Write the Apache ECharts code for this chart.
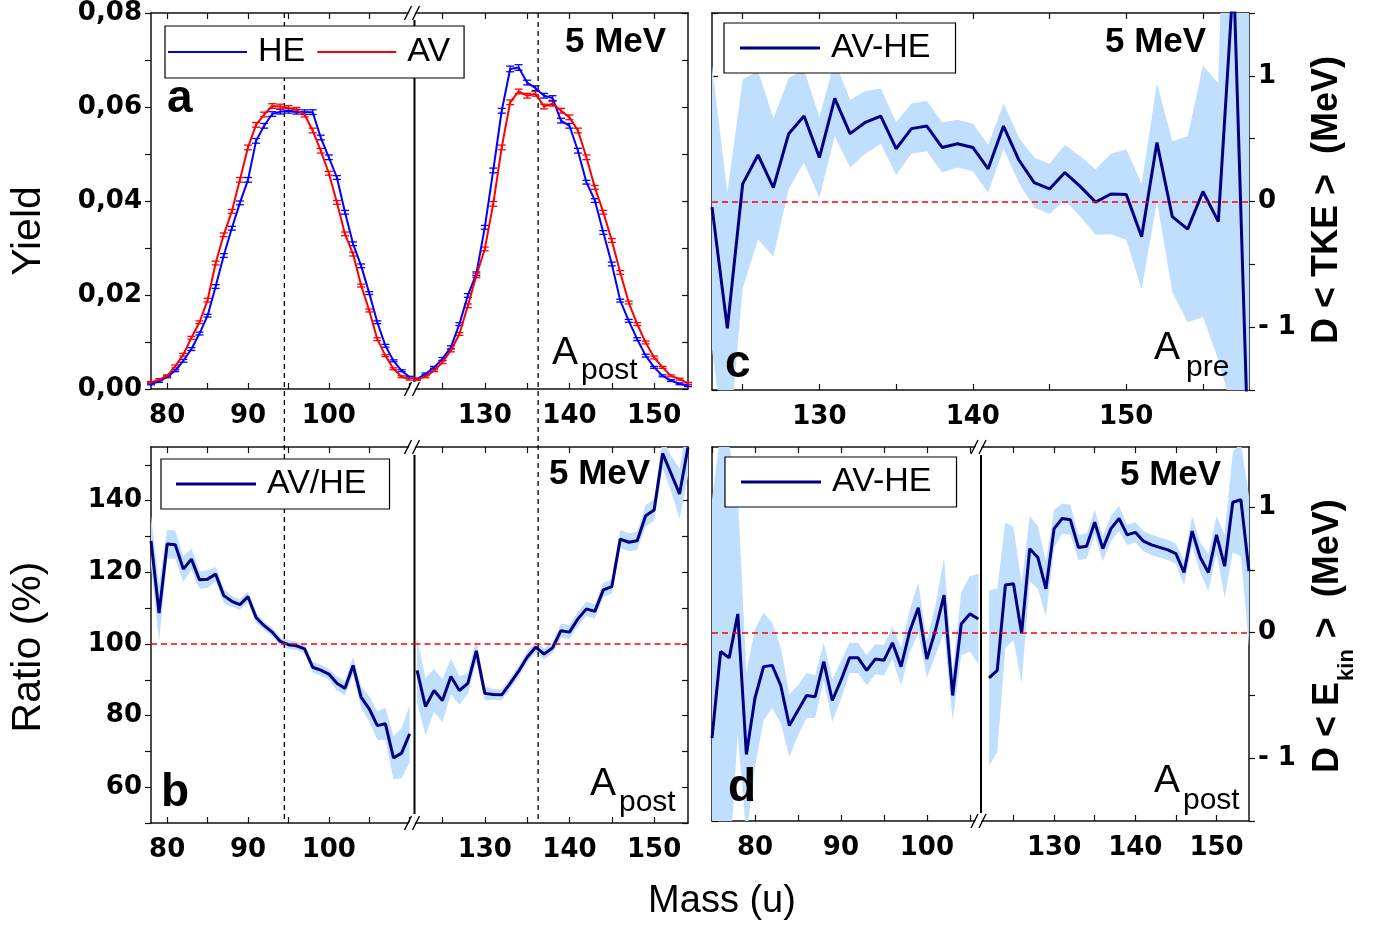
<!DOCTYPE html>
<html><head><meta charset="utf-8">
<script src="https://cdn.jsdelivr.net/npm/echarts@6/dist/echarts.min.js"></script>
<style>html,body{margin:0;padding:0;background:#fff}#c{width:1377px;height:929px}</style>
</head><body><div id="c"></div>
<script>
// ---------------- DATA ----------------
// Panel a / b : post-neutron mass, light (L) and heavy (R) groups
const massL = [78,79,80,81,82,83,84,85,86,87,88,89,90,91,92,93,94,95,96,97,98,99,100,101,102,103,104,105,106,107,108,109,110];
const massR = [122,123,124,125,126,127,128,129,130,131,132,133,134,135,136,137,138,139,140,141,142,143,144,145,146,147,148,149,150,151,152,153,154];
const yieldHE_L = [0.0011,0.0016,0.0026,0.0039,0.0060,0.0085,0.0118,0.0156,0.0218,0.0284,0.0342,0.0396,0.0445,0.0528,0.0560,0.0585,0.0590,0.0592,0.0590,0.0589,0.0589,0.0535,0.0493,0.0450,0.0376,0.0309,0.0262,0.0204,0.0142,0.0092,0.0060,0.0039,0.0025];
const yieldAV_L = [0.0014,0.0020,0.0028,0.0048,0.0073,0.0109,0.0142,0.0189,0.0268,0.0328,0.0378,0.0445,0.0514,0.0562,0.0584,0.0602,0.0601,0.0598,0.0594,0.0584,0.0550,0.0507,0.0459,0.0397,0.0330,0.0287,0.0220,0.0167,0.0106,0.0071,0.0043,0.0026,0.0021];
const yieldHE_R = [0.0021,0.0032,0.0046,0.0064,0.0089,0.0138,0.0199,0.0245,0.0344,0.0465,0.0592,0.0681,0.0684,0.0652,0.0640,0.0624,0.0619,0.0571,0.0560,0.0507,0.0440,0.0401,0.0333,0.0266,0.0188,0.0145,0.0106,0.0071,0.0046,0.0028,0.0018,0.0011,0.0007];
const yieldAV_R = [0.0021,0.0026,0.0039,0.0057,0.0082,0.0117,0.0177,0.0241,0.0298,0.0394,0.0514,0.0610,0.0633,0.0624,0.0628,0.0601,0.0607,0.0592,0.0578,0.0550,0.0493,0.0429,0.0376,0.0316,0.0248,0.0184,0.0138,0.0099,0.0067,0.0046,0.0028,0.0021,0.0012];
const errHE_L = [0.0002,0.0002,0.0002,0.0002,0.0003,0.0003,0.0003,0.0003,0.0004,0.0004,0.0004,0.0004,0.0005,0.0005,0.0005,0.0005,0.0005,0.0005,0.0005,0.0005,0.0005,0.0005,0.0005,0.0004,0.0004,0.0004,0.0004,0.0003,0.0003,0.0003,0.0002,0.0002,0.0002];
const errAV_L = [0.0002,0.0002,0.0002,0.0003,0.0003,0.0003,0.0003,0.0004,0.0004,0.0004,0.0004,0.0005,0.0005,0.0005,0.0005,0.0005,0.0005,0.0005,0.0005,0.0005,0.0005,0.0005,0.0004,0.0004,0.0004,0.0004,0.0003,0.0003,0.0003,0.0002,0.0002,0.0002,0.0002];
const errHE_R = [0.0002,0.0002,0.0002,0.0003,0.0003,0.0003,0.0004,0.0004,0.0004,0.0005,0.0005,0.0006,0.0006,0.0005,0.0005,0.0005,0.0005,0.0005,0.0005,0.0005,0.0004,0.0004,0.0004,0.0004,0.0003,0.0003,0.0003,0.0003,0.0002,0.0002,0.0002,0.0002,0.0002];
const errAV_R = [0.0002,0.0002,0.0002,0.0003,0.0003,0.0003,0.0004,0.0004,0.0004,0.0005,0.0005,0.0005,0.0005,0.0005,0.0005,0.0005,0.0005,0.0005,0.0005,0.0005,0.0005,0.0004,0.0004,0.0004,0.0004,0.0003,0.0003,0.0003,0.0003,0.0002,0.0002,0.0002,0.0002];
const ratio_L = [128.8,108.6,127.9,127.7,120.9,123.7,117.9,118.1,119.5,113.5,111.9,111.0,113.2,107.4,105.1,103.3,100.7,99.8,99.5,98.6,93.5,92.7,91.6,89.0,87.6,94.0,85.1,81.9,77.2,77.7,68.2,69.5,74.9];
const ratioErr_L = [7,8,4,4,3.5,3,2.5,2.5,2,2,1.5,1.5,1.5,1.5,1.2,1.2,1.2,1.2,1.2,1.2,1.5,1.5,1.5,2,2,2.5,3,3.5,4,4.5,6,7,8];
const ratio_R = [92.6,82.5,87.0,84.2,90.9,87.0,89.0,98.1,86.2,85.9,85.8,89.0,92.4,96.3,99.1,97.2,98.9,103.7,103.3,107.0,109.8,109.1,115.1,116.0,129.3,128.4,128.8,135.8,137.4,153.2,147.6,141.9,154.9];
const ratioErr_R = [9,8,6,6,5,4,3,3,2,1.5,1.5,1.5,1.5,1.5,1.5,1.5,1.5,2,2,2,2,2,2,2,2.5,2.5,2.5,3,3,4,5,7,8];
// Panel c : pre-neutron mass, delta TKE (MeV)
const massC = [123,124,125,126,127,128,129,130,131,132,133,134,135,136,137,138,139,140,141,142,143,144,145,146,147,148,149,150,151,152,153,154,155,156,157,158];
const dTKE = [-0.045,-1.01,0.14,0.37,0.11,0.54,0.68,0.35,0.82,0.54,0.63,0.68,0.42,0.58,0.60,0.43,0.46,0.43,0.26,0.60,0.33,0.15,0.10,0.23,0.12,-0.005,0.06,0.056,-0.28,0.47,-0.12,-0.22,0.08,-0.16,1.8,-2.2];
const dTKEErr = [1.13,1.08,0.83,0.67,0.55,0.44,0.37,0.32,0.30,0.27,0.25,0.22,0.21,0.20,0.20,0.20,0.19,0.19,0.19,0.18,0.18,0.20,0.20,0.22,0.24,0.26,0.32,0.36,0.42,0.47,0.60,0.74,1.0,1.1,3.5,4.0];
// Panel d : post-neutron mass, delta Ekin (MeV)
const massD_L = [75,76,77,78,79,80,81,82,83,84,85,86,87,88,89,90,91,92,93,94,95,96,97,98,99,100,101,102,103,104,105,106];
const dEkin_L = [-0.84,-0.15,-0.20,0.15,-0.97,-0.52,-0.27,-0.26,-0.42,-0.74,-0.62,-0.50,-0.51,-0.23,-0.54,-0.38,-0.20,-0.20,-0.30,-0.21,-0.22,-0.08,-0.27,0.01,0.20,-0.21,0.02,0.30,-0.50,0.07,0.15,0.11];
const dEkinErr_L = [1.9,1.75,1.7,0.95,0.65,0.55,0.43,0.34,0.3,0.25,0.2,0.18,0.17,0.15,0.17,0.15,0.12,0.12,0.12,0.12,0.12,0.13,0.15,0.17,0.2,0.15,0.2,0.3,0.2,0.25,0.3,0.36];
const massD_R = [122,123,124,125,126,127,128,129,130,131,132,133,134,135,136,137,138,139,140,141,142,143,144,145,146,147,148,149,150,151,152,153,154];
const dEkin_R = [-0.36,-0.30,0.38,0.39,-0.005,0.67,0.60,0.35,0.83,0.91,0.90,0.68,0.69,0.88,0.67,0.83,0.91,0.78,0.80,0.73,0.70,0.68,0.66,0.63,0.48,0.81,0.60,0.48,0.78,0.53,1.04,1.06,0.49];
const dEkinErr_R = [0.7,0.65,0.5,0.45,0.4,0.26,0.25,0.22,0.15,0.12,0.12,0.1,0.1,0.1,0.1,0.1,0.1,0.08,0.08,0.08,0.08,0.08,0.08,0.08,0.1,0.12,0.12,0.15,0.15,0.25,0.4,0.45,0.6];
// Tick / label values
const xTicksL = [80,85,90,95,100,105,110];
const xLabelsL = [80,90,100];
const xTicksR = [125,130,135,140,145,150];
const xLabelsR = [130,140,150];
const xTicksC = [125,130,135,140,145,150,155];
const xLabelsC = [130,140,150];
const xTicksDL = [75,80,85,90,95,100,105];
const xLabelsDL = [80,90,100];
const yTicksA = [0,0.01,0.02,0.03,0.04,0.05,0.06,0.07,0.08];
const yLabelsA = [0,0.02,0.04,0.06,0.08];
const yTicksB = [50,60,70,80,90,100,110,120,130,140,150];
const yLabelsB = [60,80,100,120,140];
const yTicksCD = [-1.5,-1,-0.5,0,0.5,1,1.5];
const yLabelsCD = [-1,0,1];
const meanLight = 94.5, meanHeavy = 136.3;

// ---------------- STYLE ----------------
const TICKF = 'DejaVu Sans', TXTF = 'Liberation Sans';
const AX = '#111', BLUE = '#0000ff', RED = '#ff0000', NAVY = '#000080', BAND = '#c0defe';
const BRK_AB = 414.5, BRK_D = 981;

const grids = [
  {left:151, top:13, width:BRK_AB-151, height:376},
  {left:BRK_AB, top:13, width:688-BRK_AB, height:376},
  {left:151, top:447, width:BRK_AB-151, height:376},
  {left:BRK_AB, top:447, width:688-BRK_AB, height:376},
  {left:712, top:13, width:537, height:377},
  {left:712, top:447, width:BRK_D-712, height:374},
  {left:BRK_D, top:447, width:1249-BRK_D, height:374}
];

function xAx(g, min, max, pos, ticks, labels){
  return {type:'value', gridIndex:g, min, max, position:pos,
    axisLine:{show:true, onZero:false, lineStyle:{color:AX, width:1.5}},
    axisTick:{show:true, inside:true, length:6, customValues:ticks, lineStyle:{color:AX, width:1.2}},
    axisLabel: labels ? {show:true, customValues:labels, margin:14, fontFamily:TICKF, fontWeight:'bold', fontSize:26, color:'#000'} : {show:false},
    splitLine:{show:false}};
}
function yAx(g, min, max, pos, ticks, labels, inside, fmt, fs){
  return {type:'value', gridIndex:g, min, max, position:pos,
    axisLine:{show:true, onZero:false, lineStyle:{color:AX, width:1.5}},
    axisTick:{show:true, inside:inside, length:6, customValues:ticks, lineStyle:{color:AX, width:1.2}},
    axisLabel: labels ? {show:true, customValues:labels, margin:9, formatter:fmt, fontFamily:TICKF, fontWeight:'bold', fontSize:fs, color:'#000'} : {show:false},
    splitLine:{show:false}};
}
const fmtA = v => v.toFixed(2).replace('.', ',');
const fmtB = v => String(Math.round(v));
const fmtCD = v => v < 0 ? '- ' + Math.abs(v) : String(v);

const xAxes = [
  xAx(0, 78, 110.6, 'bottom', xTicksL, xLabelsL), xAx(0, 78, 110.6, 'top', xTicksL, null),
  xAx(1, 121.7, 154, 'bottom', xTicksR, xLabelsR), xAx(1, 121.7, 154, 'top', xTicksR, null),
  xAx(2, 78, 110.6, 'bottom', xTicksL, xLabelsL), xAx(2, 78, 110.6, 'top', xTicksL, null),
  xAx(3, 121.7, 154, 'bottom', xTicksR, xLabelsR), xAx(3, 121.7, 154, 'top', xTicksR, null),
  xAx(4, 123, 158, 'bottom', xTicksC, xLabelsC), xAx(4, 123, 158, 'top', xTicksC, null),
  xAx(5, 75, 106.3, 'bottom', xTicksDL, xLabelsDL), xAx(5, 75, 106.3, 'top', xTicksDL, null),
  xAx(6, 121, 154, 'bottom', xTicksR, xLabelsR), xAx(6, 121, 154, 'top', xTicksR, null)
];
const yAxes = [
  yAx(0, 0, 0.08, 'left', yTicksA, yLabelsA, false, fmtA, 26),
  yAx(1, 0, 0.08, 'right', yTicksA, null, true),
  yAx(2, 50, 155, 'left', yTicksB, yLabelsB, false, fmtB, 26),
  yAx(3, 50, 155, 'right', yTicksB, null, true),
  yAx(4, -1.5, 1.5, 'left', yTicksCD, null, true),
  yAx(4, -1.5, 1.5, 'right', yTicksCD, yLabelsCD, false, fmtCD, 26),
  yAx(5, -1.5, 1.48, 'left', yTicksCD, null, true),
  yAx(6, -1.5, 1.48, 'right', yTicksCD, yLabelsCD, false, fmtCD, 26)
];

function lineS(name, xi, yi, xs, v, color, width, extra){
  return Object.assign({type:'line', name, xAxisIndex:xi, yAxisIndex:yi,
    data: xs.map((m,i)=>[m, v[i]]), symbol:'none', showSymbol:false, clip:true,
    lineStyle:{color, width}, itemStyle:{color}, z:4}, extra || {});
}
function errS(name, xi, yi, xs, v, e, color){
  return {type:'custom', name, xAxisIndex:xi, yAxisIndex:yi, z:3, silent:true,
    data: xs.map((m,i)=>[m, v[i]-e[i], v[i]+e[i]]), encode:{x:0, y:[1,2]},
    renderItem(params, api){
      const lo = api.coord([api.value(0), api.value(1)]);
      const hi = api.coord([api.value(0), api.value(2)]);
      const w = 4, st = {stroke:color, lineWidth:1.3};
      return {type:'group', children:[
        {type:'line', shape:{x1:lo[0], y1:lo[1], x2:hi[0], y2:hi[1]}, style:st},
        {type:'line', shape:{x1:lo[0]-w, y1:lo[1], x2:lo[0]+w, y2:lo[1]}, style:st},
        {type:'line', shape:{x1:hi[0]-w, y1:hi[1], x2:hi[0]+w, y2:hi[1]}, style:st}]};
    }};
}
function bandS(name, xi, yi, xs, v, e){
  const data = xs.map((m,i)=>[m, v[i]-e[i], v[i]+e[i]]);
  return {type:'custom', name, xAxisIndex:xi, yAxisIndex:yi, z:1, silent:true, clip:true,
    data, encode:{x:0, y:[1,2]},
    renderItem(params, api){
      if (params.dataIndex !== 0) return;
      const up = data.map(d => api.coord([d[0], d[2]]));
      const lo = data.map(d => api.coord([d[0], d[1]])).reverse();
      return {type:'polygon', shape:{points: up.concat(lo)}, style:{fill:BAND}};
    }};
}
function redDash(val){
  return {markLine:{silent:true, symbol:['none','none'], label:{show:false}, animation:false,
    lineStyle:{color:RED, type:[6,4], width:1.5}, data:[{yAxis:val}]}};
}

const series = [
  // panel a
  lineS('HE', 0, 0, massL, yieldHE_L, BLUE, 2), errS('HEerrL', 0, 0, massL, yieldHE_L, errHE_L, BLUE),
  lineS('AV', 0, 0, massL, yieldAV_L, RED, 2), errS('AVerrL', 0, 0, massL, yieldAV_L, errAV_L, RED),
  lineS('HE', 2, 1, massR, yieldHE_R, BLUE, 2), errS('HEerrR', 2, 1, massR, yieldHE_R, errHE_R, BLUE),
  lineS('AV', 2, 1, massR, yieldAV_R, RED, 2), errS('AVerrR', 2, 1, massR, yieldAV_R, errAV_R, RED),
  // panel b
  bandS('bandBL', 4, 2, massL, ratio_L, ratioErr_L),
  lineS('AV/HE', 4, 2, massL, ratio_L, NAVY, 3, redDash(100)),
  bandS('bandBR', 6, 3, massR, ratio_R, ratioErr_R),
  lineS('AV/HE', 6, 3, massR, ratio_R, NAVY, 3, redDash(100)),
  // panel c
  bandS('bandC', 8, 5, massC, dTKE, dTKEErr),
  lineS('AV-HE', 8, 5, massC, dTKE, NAVY, 3, redDash(0)),
  // panel d
  bandS('bandDL', 10, 6, massD_L, dEkin_L, dEkinErr_L),
  lineS('AV-HE', 10, 6, massD_L, dEkin_L, NAVY, 3, redDash(0)),
  bandS('bandDR', 12, 7, massD_R, dEkin_R, dEkinErr_R),
  lineS('AV-HE', 12, 7, massD_R, dEkin_R, NAVY, 3, redDash(0))
];

const legBase = {orient:'horizontal', backgroundColor:'#fff', borderColor:'#000', borderWidth:1.2, borderRadius:0,
  icon:'rect', itemWidth:80, itemHeight:3, itemGap:12, selectedMode:false, z:6,
  textStyle:{fontFamily:TXTF, fontSize:34, color:'#000', padding:[0,0,0,6]}};
const legends = [
  Object.assign({}, legBase, {data:['HE','AV'], left:165, top:26, padding:[9,14,9,3], itemWidth:79, itemHeight:2}),
  Object.assign({}, legBase, {data:['AV/HE'], left:161, top:459, padding:[8,23,8,15]}),
  Object.assign({}, legBase, {data:['AV-HE'], left:724, top:23, padding:[8,25,8,16]}),
  Object.assign({}, legBase, {data:['AV-HE'], left:725, top:457, padding:[8,25,8,16]})
];

const chart = echarts.init(document.getElementById('c'), null, {renderer:'canvas'});
chart.setOption({animation:false, backgroundColor:'#fff', grid:grids, xAxis:xAxes, yAxis:yAxes, legend:legends, series});

// ---------------- DECORATION ----------------
const mctx = document.createElement('canvas').getContext('2d');
function tw(s, font){ mctx.font = font; return mctx.measureText(s).width; }
function txt(s, x, y, size, bold, extra){
  return Object.assign({type:'text', x, y, z:10, style:{text:s, fontFamily:TXTF, fontSize:size, fontWeight: bold ? 'bold' : 'normal',
    fill:'#000', textAlign:'left', textVerticalAlign:'middle', verticalAlign:'middle'}}, extra || {});
}
function brk(bx, y){
  return [
    {type:'polygon', z:8, shape:{points:[[bx-9,y+7],[bx-2,y-7],[bx+4,y-7],[bx-3,y+7]]}, style:{fill:'#fff'}},
    {type:'line', z:9, shape:{x1:bx-10, y1:y+7, x2:bx-3, y2:y-7}, style:{stroke:'#000', lineWidth:1.4}},
    {type:'line', z:9, shape:{x1:bx-2, y1:y+7, x2:bx+5, y2:y-7}, style:{stroke:'#000', lineWidth:1.4}}
  ];
}
const xd1 = chart.convertToPixel({xAxisIndex:0}, meanLight);
const xd2 = chart.convertToPixel({xAxisIndex:2}, meanHeavy);
const els = [];
// dashed mean lines
[xd1, xd2].forEach(x => els.push({type:'line', z:1, shape:{x1:x, y1:13, x2:x, y2:823}, style:{stroke:'#000', lineWidth:1.3, lineDash:[5,4]}}));
// break lines
els.push({type:'line', z:2, shape:{x1:BRK_AB, y1:20, x2:BRK_AB, y2:383}, style:{stroke:'#000', lineWidth:2}});
els.push({type:'line', z:2, shape:{x1:BRK_AB, y1:455, x2:BRK_AB, y2:814}, style:{stroke:'#000', lineWidth:2}});
els.push({type:'line', z:2, shape:{x1:BRK_D, y1:455, x2:BRK_D, y2:813}, style:{stroke:'#000', lineWidth:2}});
brk(BRK_AB, 13).concat(brk(BRK_AB, 389), brk(BRK_AB, 447), brk(BRK_AB, 823), brk(BRK_D, 447), brk(BRK_D, 821)).forEach(e => els.push(e));
// 5 MeV
[[565,42.5],[549,474.5],[1105,42.5],[1120,475]].forEach(p => els.push(txt('5 MeV', p[0], p[1], 35, true)));
// panel letters
[['a',167,99],['b',161,793],['c',725,364],['d',728,788]].forEach(p => els.push(txt(p[0], p[1], p[2], 46, true)));
// A_post / A_pre
[[552,353,'post',581,371],[590,784,'post',619,803],[1154,348,'pre',1186,368],[1154,781,'post',1183,801]].forEach(p => {
  els.push(txt('A', p[0], p[1], 39, false));
  els.push(txt(p[2], p[3], p[4], 30, false));
});
// axis titles
els.push(txt('Yield', 29, 231, 41, false, {rotation:Math.PI/2, style:Object.assign(txt('Yield',0,0,41,false).style, {textAlign:'center'})}));
els.push(txt('Ratio (%)', 29, 647, 41, false, {rotation:Math.PI/2, style:Object.assign(txt('Ratio (%)',0,0,41,false).style, {textAlign:'center'})}));
els.push(txt('Mass (u)', 722, 902, 38, false, {style:Object.assign(txt('Mass (u)',0,0,38,false).style, {textAlign:'center'})}));
els.push(txt('D < TKE >  (MeV)', 1327, 200, 36, true, {rotation:Math.PI/2, style:Object.assign(txt('D < TKE >  (MeV)',0,0,36,true).style, {textAlign:'center'})}));
const w1 = tw('D < E', 'bold 36px "Liberation Sans"'), w2 = tw('kin', 'bold 22px "Liberation Sans"');
els.push({type:'group', x:1328, y:773, rotation:Math.PI/2, z:10, children:[
  txt('D < E', 0, 0, 36, true), txt('kin', w1 + 1, 19, 22, true), txt(' >  (MeV)', w1 + w2 + 2, 0, 36, true)
]});
chart.setOption({graphic:{elements:els}});
</script></body></html>
